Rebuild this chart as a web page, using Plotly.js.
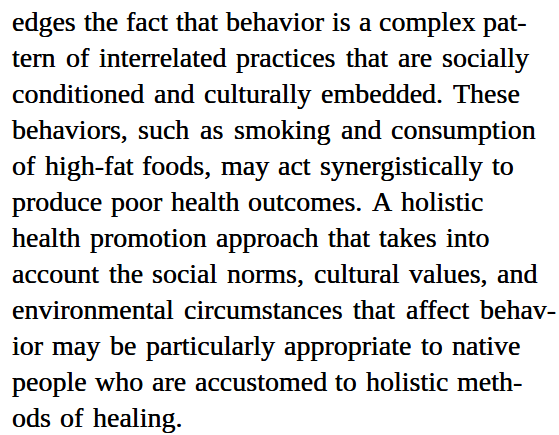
<!DOCTYPE html>
<html>
<head>
<meta charset="utf-8">
<script src="https://cdn.plot.ly/plotly-3.0.1.min.js"></script>
<style>
html,body{margin:0;padding:0;background:#fff;}
#chart{width:559px;height:435px;}
</style>
</head>
<body>
<div id="chart"></div>
<script>
// Text lines of the scanned page (one entry per printed line)
const textLines = [
  "edges the fact that behavior is a complex pat-",
  "tern of interrelated practices that are socially",
  "conditioned and culturally embedded. These",
  "behaviors, such as smoking and consumption",
  "of high-fat foods, may act synergistically to",
  "produce poor health outcomes. A holistic",
  "health promotion approach that takes into",
  "account the social norms, cultural values, and",
  "environmental circumstances that affect behav-",
  "ior may be particularly appropriate to native",
  "people who are accustomed to holistic meth-",
  "ods of healing."
];
const lineNumbers = textLines.map((_, i) => i);

// layout: right ink edge of each printed line (px), as seen on the scan
const lineRightEdges = [527, 529, 520, 536, 514, 483, 490, 537, 556, 520, 522, 182];

const W = 559, H = 435;
const leftX = 12;
const firstY = 21.5;
const lineStep = 36.0;
const fontSize = 28;
const fontFamily = '"Liberation Serif", "Times New Roman", serif';

const canvas = document.createElement('canvas');
const ctx = canvas.getContext('2d');
ctx.font = fontSize + 'px "Liberation Serif"';

const annotations = [];
textLines.forEach((line, i) => {
  const words = line.split(' ');
  const widths = words.map(w => ctx.measureText(w).width);
  const total = widths.reduce((a, b) => a + b, 0);
  const gap = words.length > 1 ? (lineRightEdges[i] - leftX - total) / (words.length - 1) : 0;
  let cx = leftX;
  words.forEach((w, k) => {
    annotations.push({
      x: cx,
      y: firstY + lineNumbers[i] * lineStep,
      xref: 'x', yref: 'y',
      text: w,
      showarrow: false,
      xanchor: 'left',
      yanchor: 'middle',
      align: 'left',
      borderpad: 0,
      borderwidth: 0,
      font: {family: fontFamily, size: fontSize, color: '#000', shadow: '0 0 0.5px #000'}
    });
    cx += widths[k] + gap;
  });
});

const layout = {
  width: W, height: H,
  margin: {l: 0, r: 0, t: 0, b: 0, pad: 0},
  paper_bgcolor: '#ffffff',
  plot_bgcolor: '#ffffff',
  showlegend: false,
  xaxis: {range: [0, W], visible: false, fixedrange: true},
  yaxis: {range: [H, 0], visible: false, fixedrange: true},
  annotations: annotations
};

Plotly.newPlot('chart', [], layout, {displayModeBar: false, staticPlot: true});
</script>
</body>
</html>
